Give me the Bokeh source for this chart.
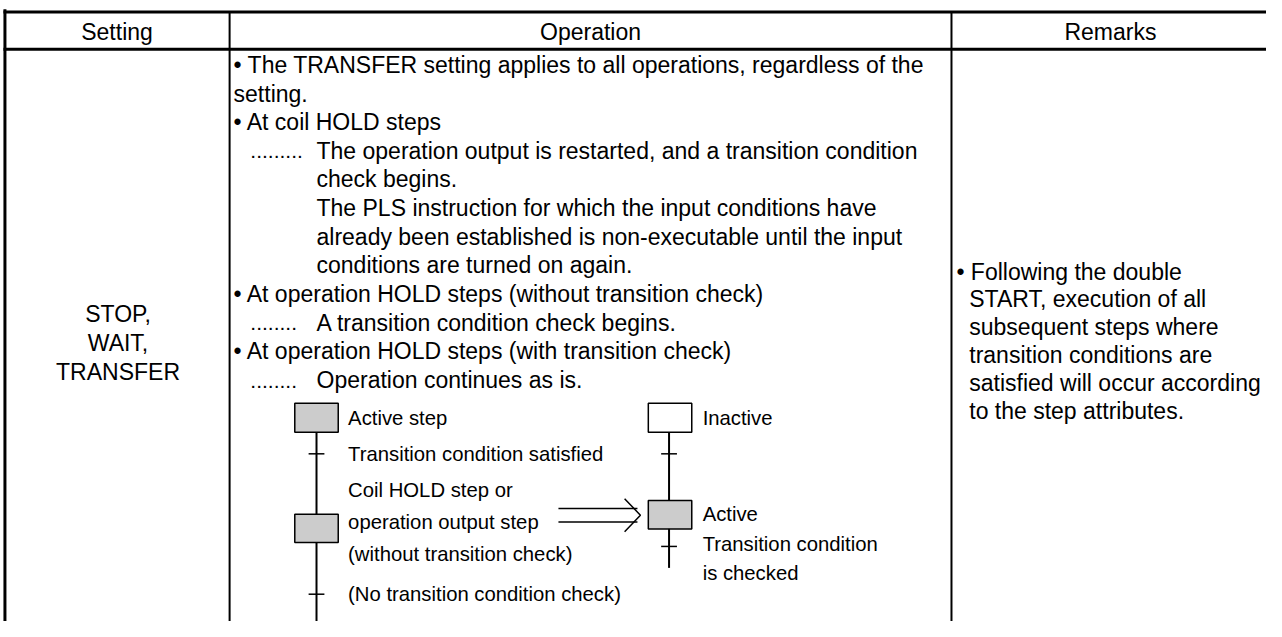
from bokeh.plotting import figure
from bokeh.models import Range1d, ColumnDataSource
from bokeh.core.properties import value
from bokeh.embed import file_html
from bokeh.resources import INLINE

# ---------------- data (text content of the table) ----------------
headers = ["Setting", "Operation", "Remarks"]
setting_lines = ["STOP,", "WAIT,", "TRANSFER"]

op_bullet_lines = [
    "\u2022 The TRANSFER setting applies to all operations, regardless of the",
    "setting.",
    "\u2022 At coil HOLD steps",
    "\u2022 At operation HOLD steps (without transition check)",
    "\u2022 At operation HOLD steps (with transition check)",
]
op_bullet_rows = [0, 1, 2, 8, 10]

op_sub_lines = [
    "The operation output is restarted, and a transition condition",
    "check begins.",
    "The PLS instruction for which the input conditions have",
    "already been established is non-executable until the input",
    "conditions are turned on again.",
    "A transition condition check begins.",
    "Operation continues as is.",
]
op_sub_rows = [3, 4, 5, 6, 7, 9, 11]

leader_dots = [".........", "........", "........"]
leader_rows = [3, 9, 11]

remarks_lines = [
    "\u2022 Following the double",
    "START, execution of all",
    "subsequent steps where",
    "transition conditions are",
    "satisfied will occur according",
    "to the step attributes.",
]

diagram_left_labels = [
    "Active step",
    "Transition condition satisfied",
    "Coil HOLD step or",
    "operation output step",
    "(without transition check)",
    "(No transition condition check)",
]
diagram_right_labels = ["Inactive", "Active", "Transition condition", "is checked"]

# ---------------- layout ----------------
W, H = 1282, 637
FW, FH = 1266, 621
FONT = value("Liberation Sans")
FS = "23px"
FS_DOT = "21px"
FS_D = "20.3px"

p = figure(width=FW, height=FH, x_range=Range1d(0, W), y_range=Range1d(H, 0),
           output_backend="svg", toolbar_location=None, min_border=0,
           background_fill_color="white", border_fill_color="white")
p.axis.visible = False
p.grid.visible = False
p.outline_line_color = None

# table rules
TOP, HDR = 11.7, 50
C1, C2 = 232, 963
p.segment(x0=[3, 3], y0=[TOP, HDR], x1=[W, W], y1=[TOP, HDR], line_color="black", line_width=3)
p.segment(x0=[4.5], y0=[9], x1=[4.5], y1=[H], line_color="black", line_width=3)
p.segment(x0=[C1, C2], y0=[TOP, TOP], x1=[C1, C2], y1=[H, H], line_color="black", line_width=2)

def txt(xs, ys, texts, size=FS, align="left"):
    src = ColumnDataSource(dict(x=xs, y=ys, t=texts))
    p.text(x="x", y="y", text="t", source=src, text_font=FONT, text_font_size=size,
           text_align=align, text_baseline="middle", text_color="black")

# headers
txt([118, (C1 + C2) / 2, 1124], [32, 32, 32], headers, align="center")

# rows
R0, DR = 66, 29.4
row_y = lambda k: R0 + DR * k

# setting column (sits about 0.7 row below the operation rows)
txt([119] * 3, [row_y(8.7), row_y(9.7), row_y(10.7)], setting_lines, align="center")

# operation column
SUB = 320
txt([236] * len(op_bullet_lines), [row_y(k) for k in op_bullet_rows], op_bullet_lines)
txt([SUB] * len(op_sub_lines), [row_y(k) for k in op_sub_rows], op_sub_lines)
txt([253] * len(leader_dots), [row_y(k) + 0.5 for k in leader_rows], leader_dots, size=FS_DOT)

# remarks column
RM0, RDY = 278, 28.6
txt([968] + [981] * (len(remarks_lines) - 1),
    [RM0 + RDY * i for i in range(len(remarks_lines))], remarks_lines)

# ---------------- SFC diagram ----------------
GRAY = "#cccccc"
# boxes: left active, left coil-hold, right inactive, right active
p.quad(left=[298, 298, 656, 656], right=[342, 342, 700, 700],
       top=[413, 527, 413, 513], bottom=[443, 556, 443, 542],
       fill_color=[GRAY, GRAY, "white", GRAY], line_color="black", line_width=1.5)
# vertical links
p.segment(x0=[320, 320, 677, 677], y0=[443, 556, 443, 542],
          x1=[320, 320, 677, 677], y1=[527, H, 513, 582], line_color="black", line_width=2)
# transition ticks
p.segment(x0=[312, 312, 669, 669], y0=[465, 609, 465, 560],
          x1=[328, 328, 685, 685], y1=[465, 609, 465, 560], line_color="black", line_width=1.5)
# double arrow
p.segment(x0=[565, 565], y0=[521, 535], x1=[645, 645], y1=[521, 535], line_color="black", line_width=1.5)
p.line(x=[632, 648, 632], y=[511, 528, 545], line_color="black", line_width=1.5)

txt([352] * 6, [428, 465, 502, 535, 568, 609], diagram_left_labels, size=FS_D)
txt([711] * 4, [428, 527, 558, 587], diagram_right_labels, size=FS_D)

open("out.html", "w").write(file_html(p, INLINE))
